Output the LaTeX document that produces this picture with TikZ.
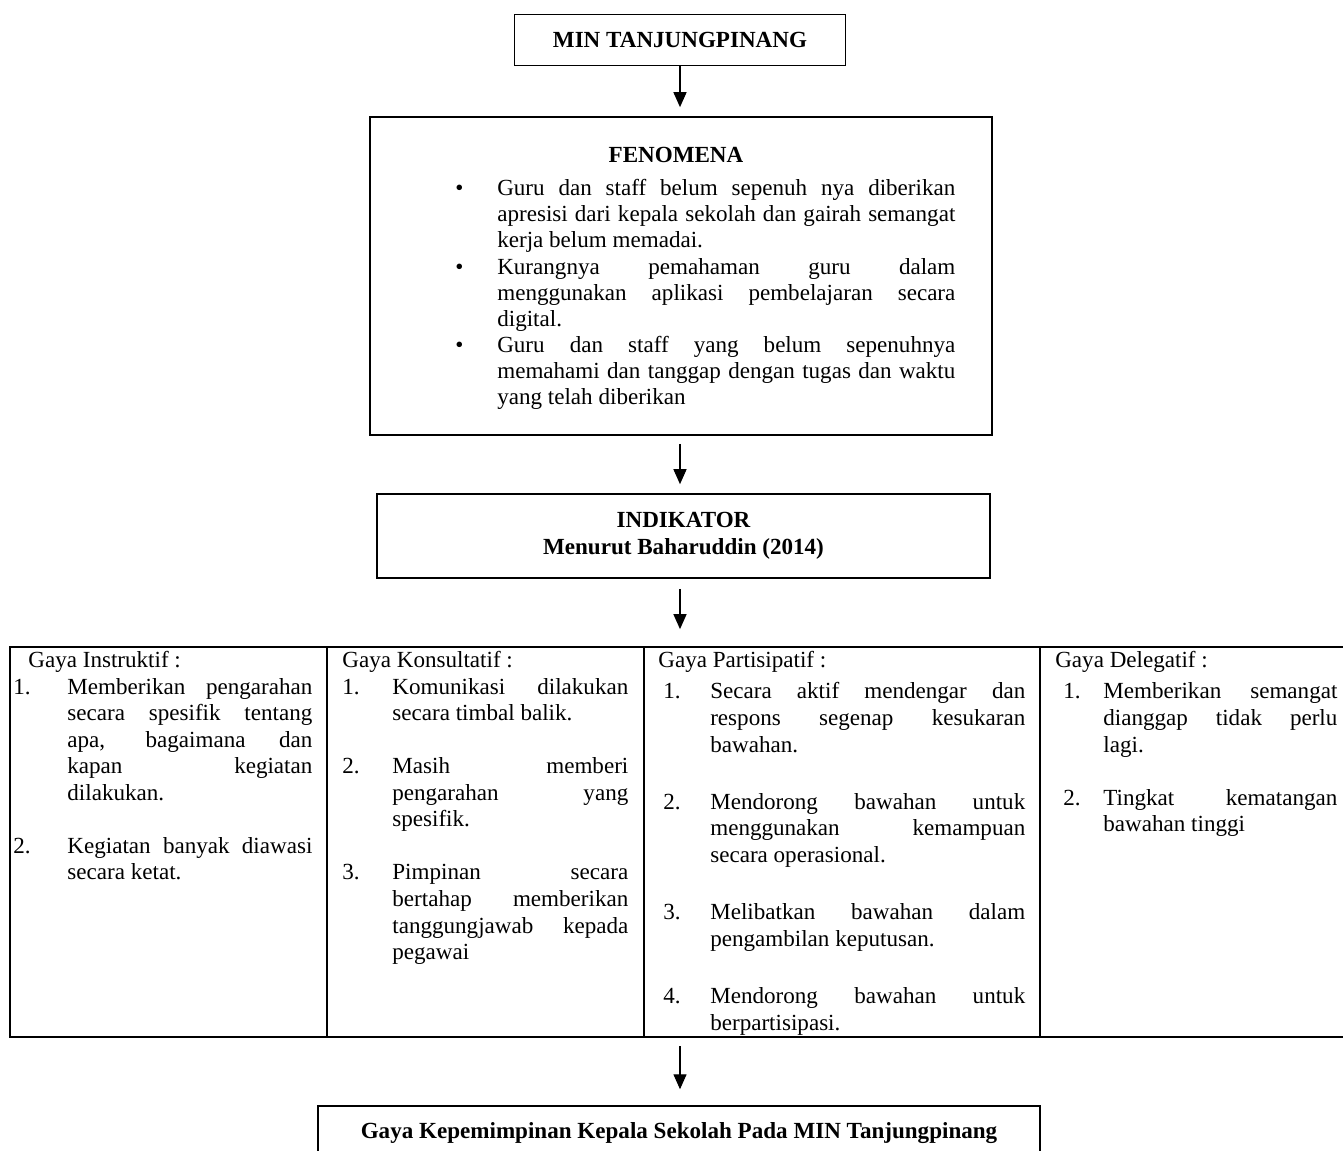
\documentclass[tikz,border=0pt]{standalone}
\usepackage{fontspec}
\setmainfont{Liberation Serif}
\usepackage{tikz}
\usetikzlibrary{positioning, arrows.meta, calc}
\newlength{\lebarnomor}
\newcommand{\butir}[2]{\par\hangindent=\lebarnomor\hangafter=1\noindent\makebox[\lebarnomor][l]{#1}#2\par}
\newcommand{\jeda}[1][13.8pt]{\vspace{#1}}

\begin{document}
\begin{tikzpicture}[
    x=0.52pt, y=-0.52pt,
    kotak/.style={draw, line width=0.8pt, inner sep=0pt, font=\fontsize{12}{13.8}\selectfont\bfseries, align=center},
    kolom/.style={anchor=north west, inner sep=0pt, align=justify, font=\fontsize{12}{13.8}\selectfont},
    panah/.style={line width=0.6pt, -{Triangle[length=7.8pt, width=6.8pt]}},
  ]
    \useasboundingbox (0,0) rectangle (1343,1151);
    \tolerance=10000 \hyphenpenalty=10000

    % Kotak atas
    \node[kotak, minimum width=172.1pt, minimum height=26.5pt] (min) at (680,40) {MIN TANJUNGPINANG};

    % Fenomena
    \node[kotak, minimum width=323.4pt, minimum height=165.4pt] (fen) at (681,276) {};
    \node[font=\fontsize{12}{13.8}\selectfont\bfseries, inner sep=0pt] (fenjudul) at (676,155) {FENOMENA};
    \node[kolom, text width=260pt, font=\fontsize{12}{13.6}\selectfont] (fenisi) at (455,169) {%
      \setlength{\lebarnomor}{21.8pt}%
      \butir{\textbullet}{Guru dan staff belum sepenuh nya diberikan \linebreak apresisi dari kepala sekolah dan gairah semangat \linebreak kerja belum memadai.}
      \butir{\textbullet}{Kurangnya pemahaman guru dalam \linebreak menggunakan aplikasi pembelajaran secara \linebreak digital.}
      \butir{\textbullet}{Guru dan staff yang belum sepenuhnya \linebreak memahami dan tanggap dengan tugas dan waktu \linebreak yang telah diberikan}};

    % Indikator
    \node[kotak, minimum width=318.8pt, minimum height=43.7pt] (ind) at (683.5,536) {INDIKATOR\\Menurut Baharuddin (2014)};

    % Tabel empat gaya
    \node[draw, line width=1pt, inner sep=0pt, minimum width=696.8pt, minimum height=202.8pt] (tabel) at (680,842) {};
    \foreach \gx in {327,644,1040}
      \draw[line width=1pt] (tabel.north -| {(\gx,0)}) -- (tabel.south -| {(\gx,0)});

    \node[kolom, text width=155.5pt] (instr) at (13,651) {%
      \setlength{\lebarnomor}{28.1pt}%
      \noindent\hspace*{7.8pt}Gaya Instruktif :\par
      \butir{1.}{Memberikan pengarahan \linebreak secara spesifik tentang \linebreak apa, bagaimana dan \linebreak kapan kegiatan \linebreak dilakukan.}\jeda
      \butir{2.}{Kegiatan banyak diawasi \linebreak secara ketat.}};

    \node[kolom, text width=148.7pt] (konsul) at (342,651) {%
      \setlength{\lebarnomor}{26pt}%
      \noindent Gaya Konsultatif :\par
      \butir{1.}{Komunikasi dilakukan \linebreak secara timbal balik.}\jeda
      \butir{2.}{Masih memberi \linebreak pengarahan yang \linebreak spesifik.}\jeda
      \butir{3.}{Pimpinan secara \linebreak bertahap memberikan \linebreak tanggungjawab kepada \linebreak pegawai}};

    \node[kolom, text width=188.2pt] (partis) at (663,651) {%
      \setlength{\lebarnomor}{24.4pt}%
      \noindent\hspace*{-2.6pt}Gaya Partisipatif :\par\vspace{2.5pt}
      \butir{1.}{Secara aktif mendengar dan \linebreak respons segenap kesukaran \linebreak bawahan.}\jeda[16pt]
      \butir{2.}{Mendorong bawahan untuk \linebreak menggunakan kemampuan \linebreak secara operasional.}\jeda[16pt]
      \butir{3.}{Melibatkan bawahan dalam \linebreak pengambilan keputusan.}\jeda[16pt]
      \butir{4.}{Mendorong bawahan untuk \linebreak berpartisipasi.}};

    \node[kolom, text width=142.5pt] (deleg) at (1063,651) {%
      \setlength{\lebarnomor}{20.8pt}%
      \noindent\hspace*{-4.2pt}Gaya Delegatif :\par\vspace{2.5pt}
      \butir{1.}{Memberikan semangat \linebreak dianggap tidak perlu \linebreak lagi.}\jeda
      \butir{2.}{Tingkat kematangan \linebreak bawahan tinggi}};

    % Kotak akhir
    \node[kotak, minimum width=375.4pt, minimum height=28.1pt] (akhir) at (679,1133) {Gaya Kepemimpinan Kepala Sekolah Pada MIN Tanjungpinang};

    % Panah
    \draw[panah, shorten >=4.7pt] (min.south) -- (min.south |- fen.north);
    \draw[panah, shorten <=4.2pt, shorten >=4.7pt] (min.south |- fen.south) -- (min.south |- ind.north);
    \draw[panah, shorten <=5.2pt, shorten >=8.8pt] (min.south |- ind.south) -- (min.south |- tabel.north);
    \draw[panah, shorten <=4.2pt, shorten >=8.3pt] (min.south |- tabel.south) -- (min.south |- akhir.north);
  \end{tikzpicture}
\end{document}
